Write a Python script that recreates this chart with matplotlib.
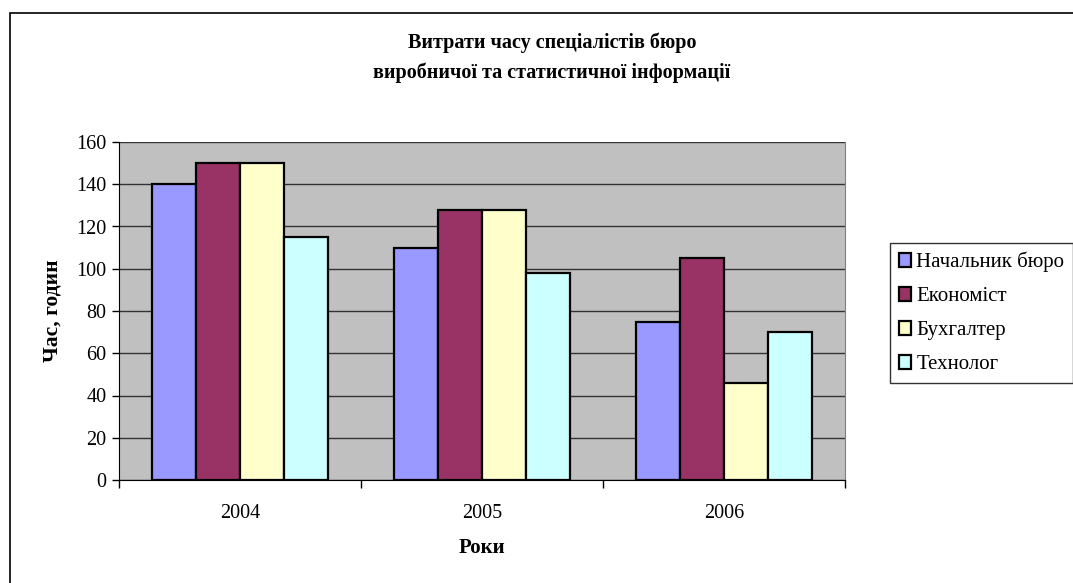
import matplotlib
matplotlib.use("Agg")
import matplotlib.pyplot as plt
import numpy as np
from matplotlib.patches import Rectangle

years = ["2004", "2005", "2006"]
series_names = ["Начальник бюро", "Економіст", "Бухгалтер", "Технолог"]
nachalnyk = [140, 110, 75]
ekonomist = [150, 128, 105]
bukhhalter = [150, 128, 46]
tekhnolog = [115, 98, 70]
colors = ["#9999FF", "#993366", "#FFFFCC", "#CCFFFF"]

plt.rcParams['font.family'] = ['Liberation Serif', 'DejaVu Serif']

W, H = 1073, 583
fig = plt.figure(figsize=(W / 100, H / 100), dpi=100)
fig.patch.set_facecolor("white")

# outer chart frame
fig.patches.append(Rectangle((10 / W, -0.01), 1.1, 1 - 13 / H + 0.01, transform=fig.transFigure,
                             fill=False, edgecolor="black", linewidth=1.2))

left, right, top, bottom = 119, 845, 142, 480
ax = fig.add_axes([left / W, 1 - bottom / H, (right - left) / W, (bottom - top) / H])
ax.set_facecolor("#C0C0C0")

data = [nachalnyk, ekonomist, bukhhalter, tekhnolog]
x = np.arange(len(years))
bw = 0.182
for i, (vals, name, c) in enumerate(zip(data, series_names, colors)):
    ax.bar(x + (i - 1.5) * bw, vals, bw, color=c, edgecolor="black", linewidth=1.6,
           label=name, zorder=3)

ax.set_xlim(-0.5, 2.5)
ax.set_ylim(0, 160)
ax.set_yticks(range(0, 161, 20))
ax.yaxis.grid(True, color="#333333", linewidth=1.0, zorder=1)
ax.set_axisbelow(True)

ax.set_xticks(x)
ax.set_xticklabels(years)
ax.tick_params(axis="x", length=0, pad=17, labelsize=14.5)
ax.set_xticks([-0.5, 0.5, 1.5, 2.5], minor=True)
ax.tick_params(axis="x", which="minor", length=6, direction="out", width=1)
ax.tick_params(axis="y", length=5, direction="out", width=1, labelsize=14.5, pad=4)

ax.spines["top"].set_visible(False)
ax.spines["right"].set_color("#808080")
ax.spines["left"].set_color("black")
ax.spines["bottom"].set_color("black")

ax.set_ylabel("Час, годин", fontsize=15.5, fontweight="bold", labelpad=10)
ax.set_xlabel("Роки", fontsize=15, fontweight="bold", labelpad=11)

fig.text(552 / W, 1 - 43 / H, "Витрати часу спеціалістів бюро", ha="center", va="center",
         fontsize=14.5, fontweight="bold")
fig.text(552 / W, 1 - 73 / H, "виробничої та статистичної інформації", ha="center", va="center",
         fontsize=14.5, fontweight="bold")

leg = ax.legend(loc="upper left", bbox_to_anchor=(890 / W, 1 - 243 / H), bbox_transform=fig.transFigure,
                frameon=True, fancybox=False, fontsize=15, handlelength=0.6, handleheight=0.6,
                handletextpad=0.25, labelspacing=0.72, borderpad=0.42, borderaxespad=0)
leg.get_frame().set_edgecolor("black")
leg.get_frame().set_linewidth(1.0)
for p in leg.get_patches():
    p.set_linewidth(1.6)

fig.savefig("out.png", dpi=100)
